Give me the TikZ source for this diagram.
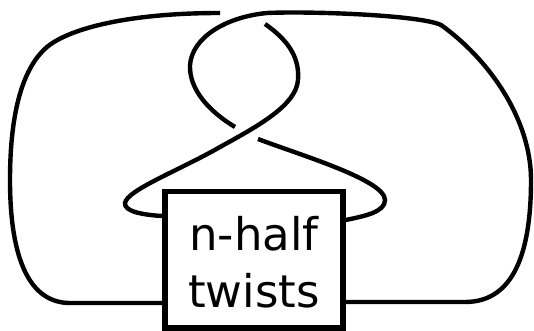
\documentclass[tikz,border=0pt]{standalone}
\usepackage{fontspec}
\newfontfamily\labelfont{DejaVu Sans}
\begin{document}
\begin{tikzpicture}[x=1pt,y=-1pt,
  strand/.style={line width=4.4pt},
  twistbox/.style={draw, line width=5.5pt, fill=white, inner sep=0pt, minimum width=178pt, minimum height=136.5pt},
  boxlabel/.style={font=\labelfont\fontsize{45}{52}\selectfont, inner sep=0pt, anchor=base}]
\useasboundingbox (0,0) rectangle (534,331);
\node[twistbox] (box) at (254,259.75) {};
% strand A: left loop
\draw[strand] (box.west |- 0,303) -- (70,303) .. controls (30,303) and (10,260) .. (10,180)
  .. controls (10,120) and (20,70) .. (47,47) .. controls (70,28) and (130,13) .. (220,13);
% strand A: right lobe, over-crossing, left tip
\draw[strand] (265,24) .. controls (285,38) and (300,55) .. (298,80)
  .. controls (296,105) and (260,125) .. (220,147)
  .. controls (180,170) and (127,190) .. (125,203)
  .. controls (124,212) and (145,215) .. (box.west |- 0,216);
% strand B: right loop, top over-crossing, left lobe
\draw[strand] (box.east |- 0,302) -- (465,302) .. controls (515,302) and (531,250) .. (531,180)
  .. controls (531,120) and (490,60) .. (441,25) .. controls (420,15) and (310,11) .. (267,13)
  .. controls (225,17) and (192,38) .. (190,65) .. controls (189,90) and (210,112) .. (235,127);
% strand B: after under-crossing, right tip
\draw[strand] (258,139) .. controls (300,155) and (385,180) .. (385,200)
  .. controls (385,212) and (365,216) .. (box.east |- 0,220);
\node[boxlabel] (line1) at (254,250) {n-half};
\node[boxlabel] (line2) at (254,307) {twists};
\end{tikzpicture}
\end{document}
